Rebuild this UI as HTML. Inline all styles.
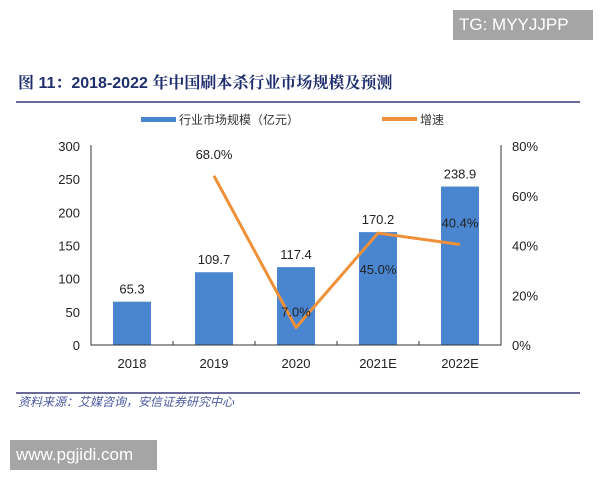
<!DOCTYPE html>
<html><head><meta charset="utf-8"><style>
body{margin:0;width:600px;height:480px;background:#fff;overflow:hidden;font-family:"Liberation Sans","Noto Sans CJK SC",sans-serif;position:relative}
.wm{position:absolute;background:#a5a5a5;color:#fff;font-size:17px;line-height:30px;padding:0 6px}
</style></head><body>
<div class="wm" style="left:453px;top:10px;width:128px">TG: MYYJJPP</div>
<div style="position:absolute;left:18px;top:70px;font-size:16px;font-weight:bold;color:#1f2f6e;font-family:'Liberation Sans','Noto Serif CJK SC',serif">图 11：2018-2022 年中国刷本杀行业市场规模及预测</div>
<div style="position:absolute;left:16px;top:101px;width:564px;height:2px;background:#6a6a98"></div>
<svg width="600" height="480" style="position:absolute;left:0;top:0">
<g id="legend">
<rect x="141" y="117" width="35" height="5" fill="#4a86cf"/>
<text x="179" y="124" font-size="12" fill="#333">行业市场规模（亿元）</text>
<rect x="382" y="117" width="35" height="4" fill="#f0913a"/>
<text x="420" y="124" font-size="12" fill="#333">增速</text>
</g>
<g id="g"></g>
<line x1="16" y1="393" x2="580" y2="393" stroke="#6a6a98" stroke-width="2"/>
<text x="18" y="406" font-size="12" fill="#4a5aa0" font-style="italic">资料来源：艾媒咨询，安信证券研究中心</text>
</svg>
<div class="wm" style="left:10px;top:440px;width:135px;font-size:17px">www.pgjidi.com</div>
<script>
const categories=["2018","2019","2020","2021E","2022E"];
const sizes=[65.3,109.7,117.4,170.2,238.9];
const growth=[null,68.0,7.0,45.0,40.4];
const leftTicks=[0,50,100,150,200,250,300];
const rightTicks=[0,20,40,60,80];
const growthLabelOffsets=[0,-22,-16,36,-22];
const X0=91,X1=501,Y0=345,Y1=146;
const band=(X1-X0)/categories.length;
const xc=i=>X0+band*(i+0.5);
const yL=v=>Y0-(v/300)*(Y0-Y1);
const yR=v=>Y0-(v/80)*(Y0-Y1);
const NS="http://www.w3.org/2000/svg";
const g=document.getElementById("g");
function mk(t,a,txt){const e=document.createElementNS(NS,t);for(const k in a)e.setAttribute(k,a[k]);if(txt!=null)e.textContent=txt;g.appendChild(e);return e;}
leftTicks.forEach(v=>{const e=mk("text",{x:80,y:yL(v)+5,"font-size":13,"text-anchor":"end",fill:"#222"},v);

});
rightTicks.forEach(v=>{const e=mk("text",{x:512,y:yR(v)+5,"font-size":13,fill:"#222"},v+"%");

});
sizes.forEach((v,i)=>{const w=38;const b=mk("rect",{x:xc(i)-w/2,y:yL(v),width:w,height:Y0-yL(v),fill:"#4a86cf"});


const t=mk("text",{x:xc(i),y:yL(v)-8,"font-size":13,"text-anchor":"middle",fill:"#222"},v.toFixed(1));


const c=mk("text",{x:xc(i),y:Y0+23,"font-size":13,"text-anchor":"middle",fill:"#222"},categories[i]);

});
const ax=mk("path",{d:`M${X0} ${Y1-1}V${Y0}H${X1}V${Y1-1}`,fill:"none",stroke:"#333","stroke-width":1});


for(let i=1;i<categories.length;i++){const tk=mk("line",{x1:X0+band*i,x2:X0+band*i,y1:Y0,y2:Y0-4,stroke:"#333"});

}
let pts=[];growth.forEach((v,i)=>{if(v!=null)pts.push(xc(i)+","+yR(v));});
const ln=mk("polyline",{points:pts.join(" "),fill:"none",stroke:"#f0913a","stroke-width":3,"stroke-linejoin":"round"});


growth.forEach((v,i)=>{if(v==null)return;const t=mk("text",{x:xc(i),y:yR(v)+growthLabelOffsets[i]+5,"font-size":13,"text-anchor":"middle",fill:"#222"},v.toFixed(1)+"%");

});
</script>
</body></html>
